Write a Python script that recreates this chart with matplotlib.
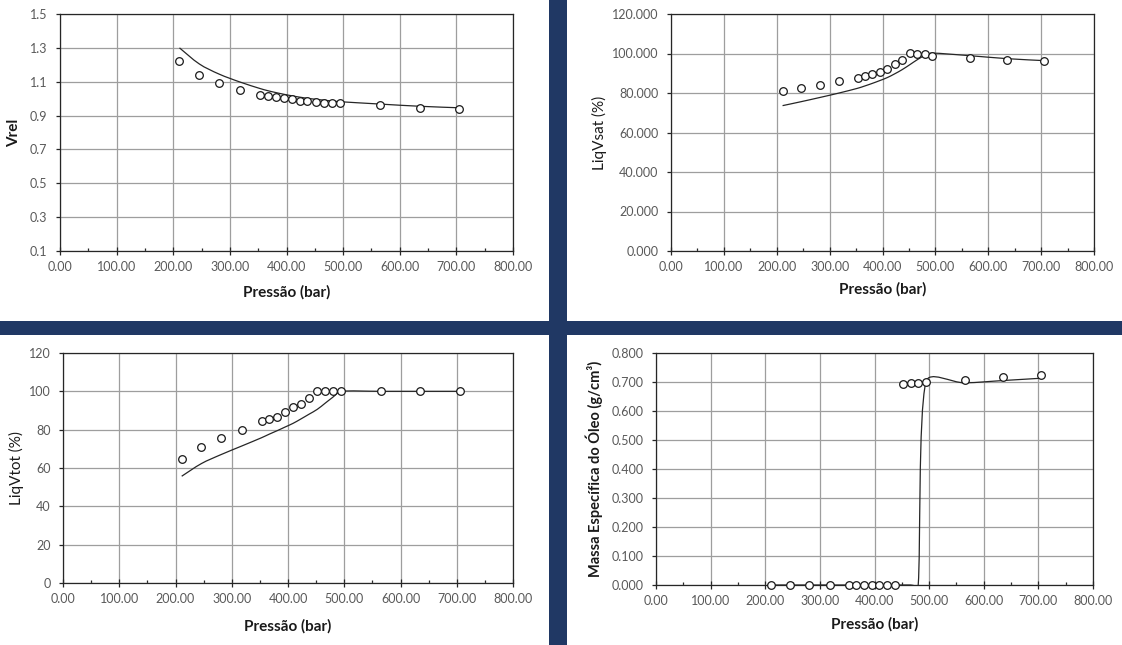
import numpy as np
import matplotlib
matplotlib.use("Agg")
import matplotlib.pyplot as plt
from matplotlib.path import Path
from matplotlib.patches import PathPatch, Rectangle
from matplotlib.ticker import FormatStrFormatter, MultipleLocator

# ---------------- data ----------------
pressure = [211, 246, 281, 318, 353, 367, 381, 395, 409, 423, 437, 452, 466, 480, 494, 565, 635, 705]

vrel_exp = [1.222, 1.139, 1.092, 1.050, 1.023, 1.015, 1.009, 1.003, 0.995, 0.987, 0.987,
            0.981, 0.974, 0.974, 0.976, 0.960, 0.946, 0.938]
vrel_sim = [1.300, 1.205, 1.145, 1.098, 1.060, 1.047, 1.036, 1.026, 1.017, 1.009, 1.002,
            0.996, 0.991, 0.986, 0.982, 0.968, 0.955, 0.946]

liqvsat_exp = [80.8, 82.5, 84.3, 86.2, 87.7, 88.4, 89.6, 90.8, 92.4, 94.5, 96.7,
               100.4, 99.7, 99.7, 98.9, 97.9, 96.7, 96.2]
liqvsat_sim = [73.6, 75.6, 77.7, 80.0, 82.4, 83.6, 84.9, 86.3, 87.8, 89.7, 91.8,
               94.4, 96.9, 99.0, 100.2, 98.9, 97.4, 96.4]

liqvtot_exp = [64.9, 71.0, 75.7, 80.0, 84.3, 85.6, 86.6, 89.2, 91.7, 93.2, 96.3,
               100.2, 100.0, 100.0, 100.0, 100.0, 100.0, 100.0]
liqvtot_sim = [55.7, 62.3, 67.0, 71.5, 75.8, 77.7, 79.5, 81.4, 83.3, 85.6, 88.0,
               90.6, 93.8, 97.0, 100.0, 100.0, 100.0, 100.0]

dens_exp = [0.0, 0.0, 0.0, 0.0, 0.0, 0.0, 0.0, 0.0, 0.0, 0.0, 0.0,
            0.693, 0.697, 0.697, 0.701, 0.708, 0.716, 0.724]
dens_sim = [0.0, 0.0, 0.0, 0.0, 0.0, 0.0, 0.0, 0.0, 0.0, 0.0, 0.0,
            0.0, 0.0, 0.0, 0.700, 0.697, 0.705, 0.713]

x_ticks = [0, 100, 200, 300, 400, 500, 600, 700, 800]
vrel_ticks = [0.1, 0.3, 0.5, 0.7, 0.9, 1.1, 1.3, 1.5]
liqvsat_ticks = [0, 20, 40, 60, 80, 100, 120]
liqvtot_ticks = [0, 20, 40, 60, 80, 100, 120]
dens_ticks = [0.0, 0.1, 0.2, 0.3, 0.4, 0.5, 0.6, 0.7, 0.8]

x_label = "Pressão (bar)"
y_labels = ["Vrel", "LiqVsat (%)", "LiqVtot (%)", "Massa Específica do Óleo (g/cm³)"]

# ---------------- style ----------------
W, H = 1122, 645
DPI = 100
plt.rcParams['font.family'] = ['Lato', 'DejaVu Sans']
TICK_C = '#595959'
GRID_C = '#9e9e9e'
NAVY = '#203864'

fig = plt.figure(figsize=(W / DPI, H / DPI), dpi=DPI)
fig.patch.set_facecolor('white')

# navy separators (figure pixel coordinates)
fig.patches.append(Rectangle((549 / W, 0), 18 / W, 1, transform=fig.transFigure,
                             facecolor=NAVY, edgecolor='none', zorder=0))
fig.patches.append(Rectangle((0, 1 - 335 / H), 1, 14 / H, transform=fig.transFigure,
                             facecolor=NAVY, edgecolor='none', zorder=0))


def add_ax(left, right, top, bottom):
    return fig.add_axes([left / W, 1 - bottom / H, (right - left) / W, (bottom - top) / H])


def smooth_line(ax, xs, ys, box_px):
    """Excel-like smoothed line drawn as cubic Bezier path in data coordinates."""
    x0, x1 = ax.get_xlim()
    y0, y1 = ax.get_ylim()
    wpx, hpx = box_px
    sx = wpx / (x1 - x0)
    sy = hpx / (y1 - y0)
    P = np.column_stack([(np.asarray(xs, float) - x0) * sx, (np.asarray(ys, float) - y0) * sy])
    n = len(P)
    verts = [P[0]]
    codes = [Path.MOVETO]
    for i in range(n - 1):
        pm = P[i - 1] if i > 0 else P[i]
        pp = P[i + 2] if i + 2 < n else P[i + 1]
        seg = np.linalg.norm(P[i + 1] - P[i])
        d1 = (P[i + 1] - pm) / 6.0
        d2 = (pp - P[i]) / 6.0
        lim = seg / 3.0
        n1 = np.linalg.norm(d1)
        n2 = np.linalg.norm(d2)
        if n1 > lim and n1 > 0:
            d1 = d1 * lim / n1
        if n2 > lim and n2 > 0:
            d2 = d2 * lim / n2
        verts += [P[i] + d1, P[i + 1] - d2, P[i + 1]]
        codes += [Path.CURVE4] * 3
    V = np.array(verts)
    V[:, 0] = V[:, 0] / sx + x0
    V[:, 1] = V[:, 1] / sy + y0
    patch = PathPatch(Path(V, codes), facecolor='none', edgecolor='#262626', lw=0.9, zorder=3)
    ax.add_patch(patch)


def style(ax, yticks, yfmt, ylabel, ybold, xlab_y_px, ylab_x_px, box):
    left, right, top, bottom = box
    ax.set_xlim(0, 800)
    ax.set_ylim(yticks[0], yticks[-1])
    ax.set_xticks(x_ticks)
    ax.xaxis.set_minor_locator(MultipleLocator(50))
    ax.set_yticks(yticks)
    ax.xaxis.set_major_formatter(FormatStrFormatter('%.2f'))
    ax.yaxis.set_major_formatter(FormatStrFormatter(yfmt))
    ax.grid(True, which='major', color=GRID_C, lw=0.9, zorder=0)
    ax.set_axisbelow(True)
    for s in ax.spines.values():
        s.set_color('#262626')
        s.set_linewidth(0.9)
    ax.tick_params(axis='x', which='major', direction='inout', length=6, width=0.9,
                   color='#262626', labelcolor=TICK_C, labelsize=9, pad=4)
    ax.tick_params(axis='x', which='minor', direction='in', length=2.5, width=0.9,
                   color='#262626')
    ax.tick_params(axis='y', which='major', direction='out', length=3, width=0.9,
                   color='#262626', labelcolor=TICK_C, labelsize=9, pad=6)
    hpx = bottom - top
    wpx = right - left
    ax.set_xlabel(x_label, fontsize=11, fontweight='bold', color='#1a1a1a')
    ax.xaxis.set_label_coords(0.5, -(xlab_y_px - bottom) / hpx)
    ax.xaxis.label.set_va('center')
    ax.set_ylabel(ylabel, fontsize=11 if i < 3 else 10.5,
                  fontweight='bold' if ybold else 'normal', color='#1a1a1a')
    ax.yaxis.set_label_coords(-(left - ylab_x_px) / wpx, 0.5)
    ax.yaxis.label.set_va('center')


panels = [
    ((60, 513, 14, 251), vrel_exp, vrel_sim, vrel_ticks, '%.1f', True, 292, 14),
    ((671, 1094, 14, 251), liqvsat_exp, liqvsat_sim, liqvsat_ticks, '%.3f', False, 289, 599),
    ((63, 513, 353, 583), liqvtot_exp, liqvtot_sim, liqvtot_ticks, '%d', False, 626, 16),
    ((656, 1093, 353, 585), dens_exp, dens_sim, dens_ticks, '%.3f', True, 624, 594),
]

for i, (box, yexp, ysim, yt, yf, yb, xly, ylx) in enumerate(panels):
    ax = add_ax(*box)
    style(ax, yt, yf, y_labels[i], yb, xly, ylx, box)
    smooth_line(ax, pressure, ysim, (box[1] - box[0], box[3] - box[2]))
    ax.plot(pressure, yexp, linestyle='none', marker='o', ms=5.5, mfc='white',
            mec='#1a1a1a', mew=0.9, zorder=4, clip_on=False)

fig.savefig('out.png', dpi=DPI, facecolor='white')
